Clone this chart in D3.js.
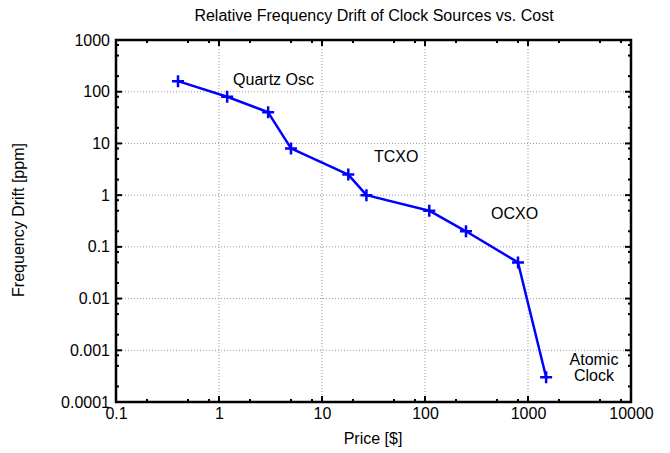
<!DOCTYPE html>
<html><head><meta charset="utf-8">
<script src="https://cdn.jsdelivr.net/npm/d3@7"></script>
<style>body{margin:0;background:#fff}svg{display:block}text{font-family:"Liberation Sans",Arial,sans-serif;fill:#000}</style>
</head><body>
<svg id="c" width="670" height="453"></svg>
<script>
const price = [0.4, 1.2, 3, 5, 18, 27, 110, 250, 800, 1500];
const drift = [160, 80, 40, 8, 2.5, 1, 0.5, 0.2, 0.05, 0.0003];
const xTicks = [0.1, 1, 10, 100, 1000, 10000];
const xTickLabels = ["0.1", "1", "10", "100", "1000", "10000"];
const yTicks = [0.0001, 0.001, 0.01, 0.1, 1, 10, 100, 1000];
const yTickLabels = ["0.0001", "0.001", "0.01", "0.1", "1", "10", "100", "1000"];
const annotations = [
  {text: ["Quartz Osc"], x: 1.37, y: 135},
  {text: ["TCXO"], x: 32, y: 4.4},
  {text: ["OCXO"], x: 437, y: 0.345},
  {text: ["Atomic", "Clock"], x: 4370, y: 0.00052}
];

const L = 116, R = 631, T = 40, B = 402;
const FS = 16;
const svg = d3.select("#c");
const x = d3.scaleLog().domain([0.1, 10000]).range([L, R]);
const y = d3.scaleLog().domain([0.0001, 1000]).range([B, T]);

// minor ticks at 2,5,8 of each decade
const minorX = [], minorY = [];
for (let e = -1; e < 4; e++) [2,5,8].forEach(m => minorX.push(m * Math.pow(10, e)));
for (let e = -4; e < 3; e++) [2,5,8].forEach(m => minorY.push(m * Math.pow(10, e)));

// grid
const g = svg.append("g");
g.selectAll("line.gx").data(xTicks.slice(1, -1)).join("line")
  .attr("x1", d => x(d)).attr("x2", d => x(d)).attr("y1", T).attr("y2", B)
  .attr("stroke", "#999").attr("stroke-width", 1).attr("stroke-dasharray", "1,2");
g.selectAll("line.gy").data(yTicks.slice(1, -1)).join("line")
  .attr("y1", d => y(d)).attr("y2", d => y(d)).attr("x1", L).attr("x2", R)
  .attr("stroke", "#999").attr("stroke-width", 1).attr("stroke-dasharray", "1,2");

// ticks (inward on all sides)
const tk = svg.append("g").attr("stroke", "#000").attr("stroke-width", 2);
function tickSet(vals, len) {
  vals.forEach(v => {
    tk.append("line").attr("x1", x(v)).attr("x2", x(v)).attr("y1", B).attr("y2", B - len);
    tk.append("line").attr("x1", x(v)).attr("x2", x(v)).attr("y1", T).attr("y2", T + len);
  });
}
function tickSetY(vals, len) {
  vals.forEach(v => {
    tk.append("line").attr("y1", y(v)).attr("y2", y(v)).attr("x1", L).attr("x2", L + len);
    tk.append("line").attr("y1", y(v)).attr("y2", y(v)).attr("x1", R).attr("x2", R - len);
  });
}
tickSet(xTicks, 6); tickSet(minorX, 3);
tickSetY(yTicks, 6); tickSetY(minorY, 3);

// tick labels via axes (no lines)
const xa = svg.append("g").attr("transform", `translate(0,${B})`)
  .call(d3.axisBottom(x).tickValues(xTicks).tickFormat((d,i) => xTickLabels[i]).tickSize(0).tickPadding(6));
xa.select(".domain").remove();
xa.selectAll("text").attr("font-size", FS).attr("font-family", "Liberation Sans, Arial, sans-serif");
const ya = svg.append("g").attr("transform", `translate(${L},0)`)
  .call(d3.axisLeft(y).tickValues(yTicks).tickFormat((d,i) => yTickLabels[i]).tickSize(0).tickPadding(6));
ya.select(".domain").remove();
ya.selectAll("text").attr("font-size", FS).attr("font-family", "Liberation Sans, Arial, sans-serif");

// frame
svg.append("rect").attr("x", L).attr("y", T).attr("width", R - L).attr("height", B - T)
  .attr("fill", "none").attr("stroke", "#000").attr("stroke-width", 2.5);

// data line
const pts = price.map((p, i) => [p, drift[i]]);
svg.append("path").datum(pts)
  .attr("d", d3.line().x(d => x(d[0])).y(d => y(d[1])))
  .attr("fill", "none").attr("stroke", "#0000ff").attr("stroke-width", 2.5).attr("stroke-linejoin", "round");
svg.append("g").selectAll("path").data(pts).join("path")
  .attr("d", d => { const cx = x(d[0]), cy = y(d[1]), s = 6; return `M${cx-s},${cy}H${cx+s}M${cx},${cy-s}V${cy+s}`; })
  .attr("stroke", "#0000ff").attr("stroke-width", 2.5);

// annotations
annotations.forEach(a => {
  const t = svg.append("text").attr("x", x(a.x)).attr("y", y(a.y)).attr("font-size", FS)
    .attr("text-anchor", a.text.length > 1 ? "middle" : "start");
  a.text.forEach((s, i) => t.append("tspan").attr("x", x(a.x)).attr("dy", i === 0 ? 0 : 16).text(s));
});

// titles
svg.append("text").attr("x", 374).attr("y", 21).attr("text-anchor", "middle").attr("font-size", FS)
  .text("Relative Frequency Drift of Clock Sources vs. Cost");
svg.append("text").attr("x", 373).attr("y", 444).attr("text-anchor", "middle").attr("font-size", FS)
  .text("Price [$]");
svg.append("text").attr("transform", "translate(24,220) rotate(-90)").attr("text-anchor", "middle").attr("font-size", FS)
  .text("Frequency Drift [ppm]");
</script>
</body></html>
